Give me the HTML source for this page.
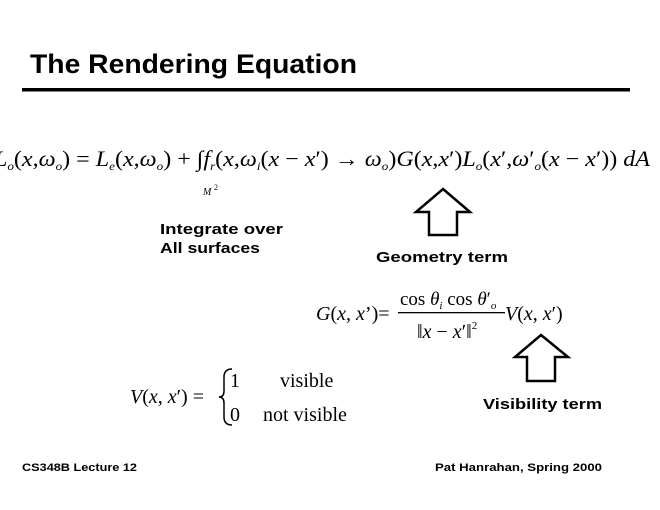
<!DOCTYPE html>
<html><head><meta charset="utf-8"><style>
html,body{margin:0;padding:0;background:#fff;}
svg{display:block}
.s{font-family:"Liberation Sans",sans-serif;font-weight:bold;fill:#000}
.m{font-family:"Liberation Serif",serif;fill:#000}
</style></head><body>
<svg width="660" height="510" viewBox="0 0 660 510" xmlns="http://www.w3.org/2000/svg">
<text class="s" x="30" y="73" font-size="27" textLength="327" lengthAdjust="spacingAndGlyphs">The Rendering Equation</text>
<rect x="22" y="88" width="608" height="3.5" fill="#000"/>

<text class="m" x="-6" y="166" font-size="22" textLength="656" lengthAdjust="spacingAndGlyphs"><tspan font-style="italic">L</tspan><tspan font-size="12" dy="4" font-style="italic">o</tspan><tspan dy="-4">(</tspan><tspan font-style="italic">x</tspan>,<tspan font-style="italic">ω</tspan><tspan font-size="12" dy="4" font-style="italic">o</tspan><tspan dy="-4">) = </tspan><tspan font-style="italic">L</tspan><tspan font-size="12" dy="4" font-style="italic">e</tspan><tspan dy="-4">(</tspan><tspan font-style="italic">x</tspan>,<tspan font-style="italic">ω</tspan><tspan font-size="12" dy="4" font-style="italic">o</tspan><tspan dy="-4">) +   ∫</tspan><tspan font-style="italic">f</tspan><tspan font-size="12" dy="4" font-style="italic">r</tspan><tspan dy="-4">(</tspan><tspan font-style="italic">x</tspan>,<tspan font-style="italic">ω</tspan><tspan font-size="12" dy="4" font-style="italic">i</tspan><tspan dy="-4">(</tspan><tspan font-style="italic">x</tspan> − <tspan font-style="italic">x</tspan>′) → <tspan font-style="italic">ω</tspan><tspan font-size="12" dy="4" font-style="italic">o</tspan><tspan dy="-4">)</tspan><tspan font-style="italic">G</tspan>(<tspan font-style="italic">x</tspan>,<tspan font-style="italic">x</tspan>′)<tspan font-style="italic">L</tspan><tspan font-size="12" dy="4" font-style="italic">o</tspan><tspan dy="-4">(</tspan><tspan font-style="italic">x</tspan>′,<tspan font-style="italic">ω</tspan>′<tspan font-size="12" dy="4" font-style="italic">o</tspan><tspan dy="-4">(</tspan><tspan font-style="italic">x</tspan> − <tspan font-style="italic">x</tspan>′)) <tspan font-style="italic">dA</tspan></text>
<text class="m" x="203" y="195" font-size="10" font-style="italic">M</text>
<text class="m" x="214" y="190" font-size="8">2</text>

<path d="M443 189 L470 212 L457 212 L457 235 L429 235 L429 212 L416 212 Z" fill="none" stroke="#000" stroke-width="2.5"/>
<path d="M541 335 L568 357 L555 357 L555 381 L527 381 L527 357 L515 357 Z" fill="none" stroke="#000" stroke-width="2.5"/>

<text class="s" x="160" y="234" font-size="15" textLength="123" lengthAdjust="spacingAndGlyphs">Integrate over</text>
<text class="s" x="160" y="253" font-size="15" textLength="100" lengthAdjust="spacingAndGlyphs">All surfaces</text>
<text class="s" x="376" y="262" font-size="15" textLength="132" lengthAdjust="spacingAndGlyphs">Geometry term</text>
<text class="s" x="483" y="409" font-size="15" textLength="119" lengthAdjust="spacingAndGlyphs">Visibility term</text>

<text class="m" x="316" y="320" font-size="20"><tspan font-style="italic">G</tspan>(<tspan font-style="italic">x</tspan>, <tspan font-style="italic">x</tspan>’)=</text>
<text class="m" x="400" y="305" font-size="19">cos <tspan font-style="italic">θ</tspan><tspan font-size="11" dy="4" font-style="italic">i</tspan><tspan dy="-4"> cos </tspan><tspan font-style="italic">θ</tspan>′<tspan font-size="11" dy="4" font-style="italic">o</tspan></text>
<rect x="398" y="312" width="107" height="1.3" fill="#000"/>
<text class="m" x="417" y="338" font-size="20">‖<tspan font-style="italic">x</tspan> − <tspan font-style="italic">x</tspan>′‖<tspan font-size="11" dy="-9">2</tspan></text>
<text class="m" x="505" y="320" font-size="20"><tspan font-style="italic">V</tspan>(<tspan font-style="italic">x</tspan>, <tspan font-style="italic">x</tspan>′)</text>

<text class="m" x="130" y="403" font-size="20"><tspan font-style="italic">V</tspan>(<tspan font-style="italic">x</tspan>, <tspan font-style="italic">x</tspan>′) =</text>
<path d="M232 369 Q224 369 224 377 L224 391 Q224 397 219 397 Q224 397 224 403 L224 417 Q224 425 232 425" fill="none" stroke="#000" stroke-width="1.5"/>
<text class="m" x="230" y="387" font-size="20">1</text>
<text class="m" x="280" y="387" font-size="20">visible</text>
<text class="m" x="230" y="421" font-size="20">0</text>
<text class="m" x="263" y="421" font-size="20">not visible</text>

<text class="s" x="22" y="471" font-size="11" textLength="115" lengthAdjust="spacingAndGlyphs">CS348B Lecture 12</text>
<text class="s" x="435" y="471" font-size="11" textLength="167" lengthAdjust="spacingAndGlyphs">Pat Hanrahan, Spring 2000</text>
</svg>
</body></html>
